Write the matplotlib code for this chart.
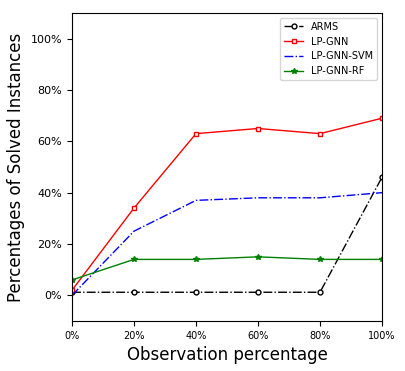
import matplotlib
matplotlib.use("Agg")
import matplotlib.pyplot as plt
from matplotlib.ticker import PercentFormatter

x = [0.0, 0.2, 0.4, 0.6, 0.8, 1.0]
arms = [0.012, 0.012, 0.012, 0.012, 0.012, 0.46]
lp_gnn = [0.02, 0.34, 0.63, 0.65, 0.63, 0.69]
lp_gnn_svm = [0.0, 0.25, 0.37, 0.38, 0.38, 0.40]
lp_gnn_rf = [0.06, 0.14, 0.14, 0.15, 0.14, 0.14]

fig = plt.figure(figsize=(4.05, 3.71), dpi=100)
ax = fig.add_axes([72/405, 1-321/371, 310/405, 308/371])

ax.plot(x, arms, color='black', linestyle='-.', marker='o', markersize=3.5,
        markerfacecolor='white', linewidth=1, label='ARMS')
ax.plot(x, lp_gnn, color='red', linestyle='-', marker='s', markersize=3.5,
        markerfacecolor='white', linewidth=1, label='LP-GNN')
ax.plot(x, lp_gnn_svm, color='blue', linestyle='-.', linewidth=1, label='LP-GNN-SVM')
ax.plot(x, lp_gnn_rf, color='green', linestyle='-', marker='*', markersize=4,
        linewidth=1, label='LP-GNN-RF')

ax.set_xlim(0, 1)
ax.set_ylim(-0.1, 1.1)
ax.set_xticks(x)
ax.set_yticks([0, 0.2, 0.4, 0.6, 0.8, 1.0])
ax.xaxis.set_major_formatter(PercentFormatter(1.0, decimals=0))
ax.yaxis.set_major_formatter(PercentFormatter(1.0, decimals=0))
ax.tick_params(axis='x', labelsize=7)
ax.tick_params(axis='y', labelsize=8)
ax.set_xlabel('Observation percentage', fontsize=12)
ax.set_ylabel('Percentages of Solved Instances', fontsize=12)
ax.legend(loc='upper right', fontsize=7)

fig.savefig('out.png', dpi=100)
